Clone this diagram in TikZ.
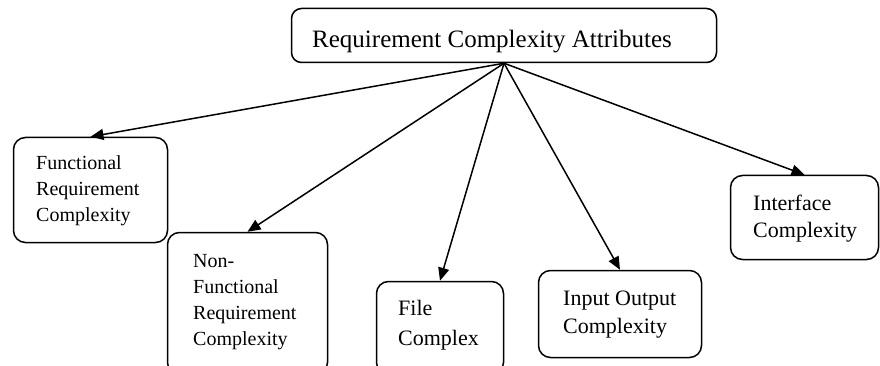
\documentclass[tikz,border=0pt]{standalone}
\usepackage{fontspec}
\setmainfont{Liberation Serif}
\usetikzlibrary{arrows.meta}
\newcommand{\lines}[1]{\begin{tabular}[t]{@{}l@{}}#1\end{tabular}}
\begin{document}
\begin{tikzpicture}[x=1pt,y=-1pt,
  box/.style={draw, line width=1.5pt, rounded corners=12pt, inner sep=0pt, minimum width=#1},
  lbl/.style={anchor=base west, inner sep=0pt},
  conn/.style={line width=1.5pt, -{Triangle[length=13pt,width=11pt]}}]
\useasboundingbox (0,0) rectangle (880,366);
\begin{scope}
\clip (0,0) rectangle (880,366);
\node[box=425pt, minimum height=54pt, rounded corners=10pt] (top) at (504,35.5) {};
\node[box=154pt, minimum height=105pt] (func) at (90.5,190) {};
\node[box=160pt, minimum height=142pt] (nonf) at (247.5,303.5) {};
\node[box=127pt, minimum height=93pt] (file) at (440,328) {};
\node[box=163pt, minimum height=87pt] (io) at (620,314) {};
\node[box=148pt, minimum height=84pt] (intf) at (804.5,217.5) {};
\end{scope}
\node[lbl, font=\fontsize{25}{30}\selectfont] (ttop) at (312,48) {Requirement Complexity Attributes};
\node[lbl, font=\fontsize{20}{26}\selectfont] (tfunc) at (36,170) {\lines{Functional\\Requirement\\Complexity}};
\node[lbl, font=\fontsize{20}{26}\selectfont] (tnonf) at (193,267) {\lines{Non-\\Functional\\Requirement\\Complexity}};
\node[lbl, font=\fontsize{22}{30}\selectfont] (tfile) at (398,315) {\lines{File\\Complex}};
\node[lbl, font=\fontsize{22}{28}\selectfont] (tio) at (563,305) {\lines{Input Output\\Complexity}};
\node[lbl, font=\fontsize{22}{28}\selectfont] (tintf) at (753,210) {\lines{Interface\\Complexity}};
\draw[conn] (top.south) -- (func.north);
\draw[conn] (top.south) -- (nonf.north);
\draw[conn] (top.south) -- (file.north);
\draw[conn] (top.south) -- (io.north);
\draw[conn] (top.south) -- (intf.north);
\end{tikzpicture}
\end{document}
